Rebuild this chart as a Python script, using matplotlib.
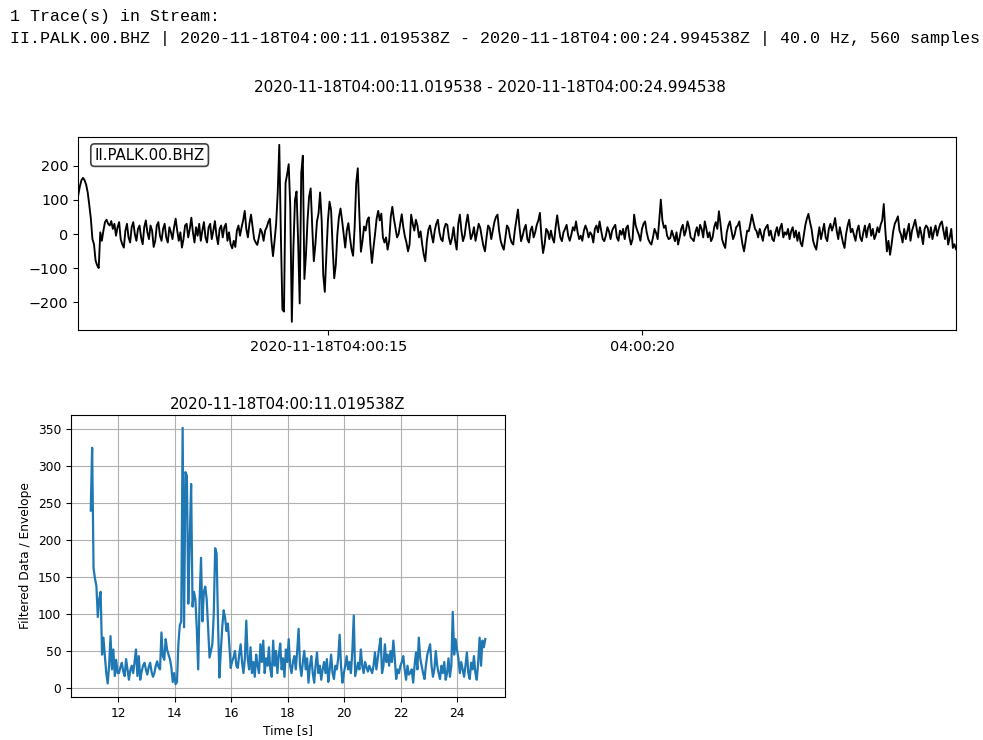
import numpy as np
import matplotlib
matplotlib.use("Agg")
import matplotlib.pyplot as plt

# ---------------- data ----------------
header_lines = [
    "1 Trace(s) in Stream:",
    "II.PALK.00.BHZ | 2020-11-18T04:00:11.019538Z - 2020-11-18T04:00:24.994538Z | 40.0 Hz, 560 samples",
]
station = "II.PALK.00.BHZ"
t_start = 11.019538
t_end = 24.994538
suptitle = "2020-11-18T04:00:11.019538 - 2020-11-18T04:00:24.994538"
top_xticks = [15, 20]
top_xticklabels = ["2020-11-18T04:00:15", "04:00:20"]
top_yticks = [-200, -100, 0, 100, 200]
bottom_title = "2020-11-18T04:00:11.019538Z"
bottom_xlabel = "Time [s]"
bottom_ylabel = "Filtered Data / Envelope"
bottom_xticks = [12, 14, 16, 18, 20, 22, 24]
bottom_yticks = [0, 50, 100, 150, 200, 250, 300, 350]

# waveform samples (40 Hz, 560 samples)
wave = [
    115, 140, 158, 165, 158, 145, 122, 85, 45, -15, -30, -78, -92, -100, 5, -20, 10, 35, 42, 30,
    25, 38, 15, 30, -5, 20, 35, -15, -30, -40, 10, 30, -10, -25, 20, 35, 0, -20, 15, 25,
    -10, -30, 20, 40, 5, -15, 25, 10, -38, -20, 25, 35, -5, -20, 15, 30, -10, -25, 20, 5,
    -15, 20, 45, 10, -20, 5, -40, -15, 25, 30, -10, 15, 48, 5, -25, 20, -5, 30, -20, 10,
    35, -10, -25, 20, 30, -15, 10, 38, -5, -30, 15, 25, -10, 20, 30, -20, 5, -30, -42, -20,
    -38, 10, 25, -5, 20, 40, 68, 15, -10, 30, 57, 20, -15, -25, -32, -10, 15, 5, -20, 10,
    20, 35, 45, -20, -65, -20, 30, 120, 262, 0, -222, -228, 150, 175, 205, 80, -258, -40, 100, 125,
    -20, -204, 180, 230, -132, -60, 40, 110, 134, 20, -80, -30, 37, 60, 122, 40, -120, -170, -60, 40,
    95, 70, -40, -130, -90, 0, 50, 75, 40, 0, -40, 10, 32, -10, -45, -64, 20, 150, 193, 60,
    -52, -20, 22, 10, 40, 49, -30, -85, -40, 0, 45, 68, 40, 60, -10, -25, -10, -46, -20, 50,
    80, 45, 18, -10, 0, 30, 58, 20, -7, -25, -51, -30, 57, 30, 10, 42, 25, -10, 8, -30,
    -60, -80, -20, 13, 25, -2, -25, 10, 30, 42, 5, -15, -21, 15, 30, 27, -10, -30, -12, 20,
    -20, -46, 30, 57, 10, -21, -5, 30, 57, 20, -15, -2, 20, -20, 5, 30, 18, -10, -35, -51,
    -10, 25, 18, -15, 10, 35, 50, 57, 10, -20, -35, -46, -10, 25, 18, -10, -25, -31, 10, 40,
    72, 20, -21, -5, 15, 27, -15, -25, 10, 22, -10, 5, 27, 40, 62, -10, -56, -30, 15, 8,
    -15, 10, -12, -25, 20, 55, 20, -10, -21, 5, 15, 27, -5, -20, -2, 20, 10, 37, 5, -15,
    -5, -20, 10, 25, 12, -10, 5, -2, -25, 15, 25, 5, 37, 10, -15, -21, -5, 20, 8, -15,
    10, 20, 27, -10, -20, 10, -2, 15, -15, 18, 25, -10, -31, -15, 57, 25, 10, -2, -20, 15,
    30, 37, 5, -15, -25, -31, -10, 15, 3, -15, 40, 101, 40, 18, 25, -5, -15, -12, 10, -5,
    -21, 5, -31, -10, 15, 27, -5, 10, 37, 20, -10, -15, -21, 5, 20, -5, 27, 15, -10, 37,
    15, -10, 5, -21, -10, 20, 35, 15, 67, 30, -15, -30, -41, 5, 25, 37, 10, -15, -2, 20,
    25, 37, 0, -30, -51, -20, 10, 8, 30, 57, 35, 15, 8, -10, 15, -2, -20, 10, 20, 27,
    -5, 10, -15, -21, 5, 20, -5, 18, 30, -10, 5, -2, 15, -15, 8, 20, -10, 10, -20, 5,
    -25, -36, -5, 25, 45, 59, 35, 15, -20, -35, -46, -10, 20, -15, 8, 30, -10, -21, 15, 30,
    10, 25, 47, 10, -15, 20, -2, -25, -41, 0, 25, 42, 5, 15, -2, -20, 10, 25, -10, -21,
    5, 25, -10, 18, 30, -5, 15, -15, -2, 20, 5, 27, 40, 88, 10, -51, -20, -61, -30, 8,
    30, 40, 52, 10, -2, -25, 15, -15, 8, 30, -20, 10, 25, 42, 15, -10, 20, -2, -30, 15,
    25, 18, -10, 20, -15, 8, 25, -5, 15, 30, 37, 10, -15, 20, -31, -10, 15, -41, -30, -45,
]

# envelope (every other sample, 20 Hz)
envelope = [
    240, 325, 162, 148, 138, 96, 120, 130, 45, 68,
    43, 20, 6, 30, 70, 25, 52, 16, 38, 20,
    20, 28, 34, 22, 16, 39, 25, 11, 24, 30,
    20, 35, 52, 16, 43, 11, 22, 30, 34, 25,
    18, 28, 34, 22, 15, 20, 30, 36, 28, 25,
    75, 43, 38, 66, 52, 45, 39, 28, 8, 20,
    5, 8, 60, 85, 90, 352, 82, 292, 287, 114,
    200, 276, 110, 130, 120, 80, 25, 120, 176, 90,
    130, 137, 120, 82, 41, 50, 59, 100, 189, 182,
    90, 14, 50, 82, 105, 95, 77, 87, 59, 27,
    36, 41, 50, 30, 27, 45, 59, 35, 20, 40,
    91, 40, 25, 55, 20, 35, 15, 45, 30, 20,
    59, 35, 64, 20, 40, 30, 55, 25, 15, 64,
    30, 50, 20, 45, 60, 25, 40, 15, 52, 35,
    66, 30, 20, 35, 43, 25, 50, 80, 30, 16,
    35, 50, 25, 40, 7, 30, 43, 20, 7, 30,
    48, 20, 30, 11, 25, 35, 20, 39, 8, 25,
    45, 20, 12, 30, 25, 40, 72, 30, 7, 20,
    30, 43, 25, 35, 20, 50, 98, 16, 25, 34,
    25, 52, 30, 20, 35, 28, 22, 30, 25, 20,
    30, 48, 25, 40, 55, 67, 20, 30, 59, 35,
    45, 30, 50, 35, 64, 40, 12, 25, 20, 30,
    35, 43, 25, 11, 30, 18, 20, 25, 7, 30,
    48, 25, 68, 40, 30, 20, 12, 30, 45, 52,
    59, 30, 15, 25, 50, 30, 20, 12, 30, 20,
    35, 11, 20, 40, 15, 30, 103, 45, 66, 52,
    40, 20, 35, 25, 15, 30, 48, 20, 12, 34,
    25, 43, 20, 11, 35, 68, 30, 64, 55, 66,
]

t_wave = np.linspace(t_start, t_end, len(wave))
t_env = np.linspace(t_start, t_end, len(envelope))

W, H = 983, 740
fig = plt.figure(figsize=(W / 100, H / 100), dpi=100)

# header text (monospace)
fig.text(10 / W, 1 - 17 / H, header_lines[0], family="Liberation Mono", size=12.0,
         ha="left", va="center")
fig.text(10 / W, 1 - 39 / H, header_lines[1], family="Liberation Mono", size=12.0,
         ha="left", va="center")

# top panel suptitle
fig.text(490 / W, 1 - 88 / H, suptitle, ha="center", va="center", size=11)

# ---------------- top waveform panel ----------------
ax1 = fig.add_axes([78.3 / W, 1 - 330 / H, (956 - 78.3) / W, (330 - 137) / H])
ax1.plot(t_wave, wave, color="k", lw=1.35)
ax1.set_xlim(t_start, t_end)
ax1.set_ylim(-282, 285)
ax1.set_xticks(top_xticks)
ax1.set_xticklabels(top_xticklabels)
ax1.set_yticks(top_yticks)
ax1.tick_params(axis="both", labelsize=10.4)
ax1.text(0.0185, 0.945, station, transform=ax1.transAxes, ha="left", va="top", size=10.8,
         bbox=dict(boxstyle="round,pad=0.25", fc="white", ec="0.25", lw=1.2))

# ---------------- bottom envelope panel ----------------
ax2 = fig.add_axes([71 / W, 1 - 697 / H, (505 - 71) / W, (697 - 415) / H])
ax2.plot(t_env, envelope, color="C0", lw=1.6)
ax2.set_title(bottom_title, size=10.8, pad=4)
ax2.set_xlabel(bottom_xlabel, size=8.8, labelpad=3)
ax2.set_ylabel(bottom_ylabel, size=8.8, labelpad=4)
ax2.tick_params(labelsize=8.8)
ax2.set_xticks(bottom_xticks)
ax2.set_yticks(bottom_yticks)
ax2.grid(True, color="#b0b0b0", lw=0.8)

fig.savefig("out.png", dpi=100)
